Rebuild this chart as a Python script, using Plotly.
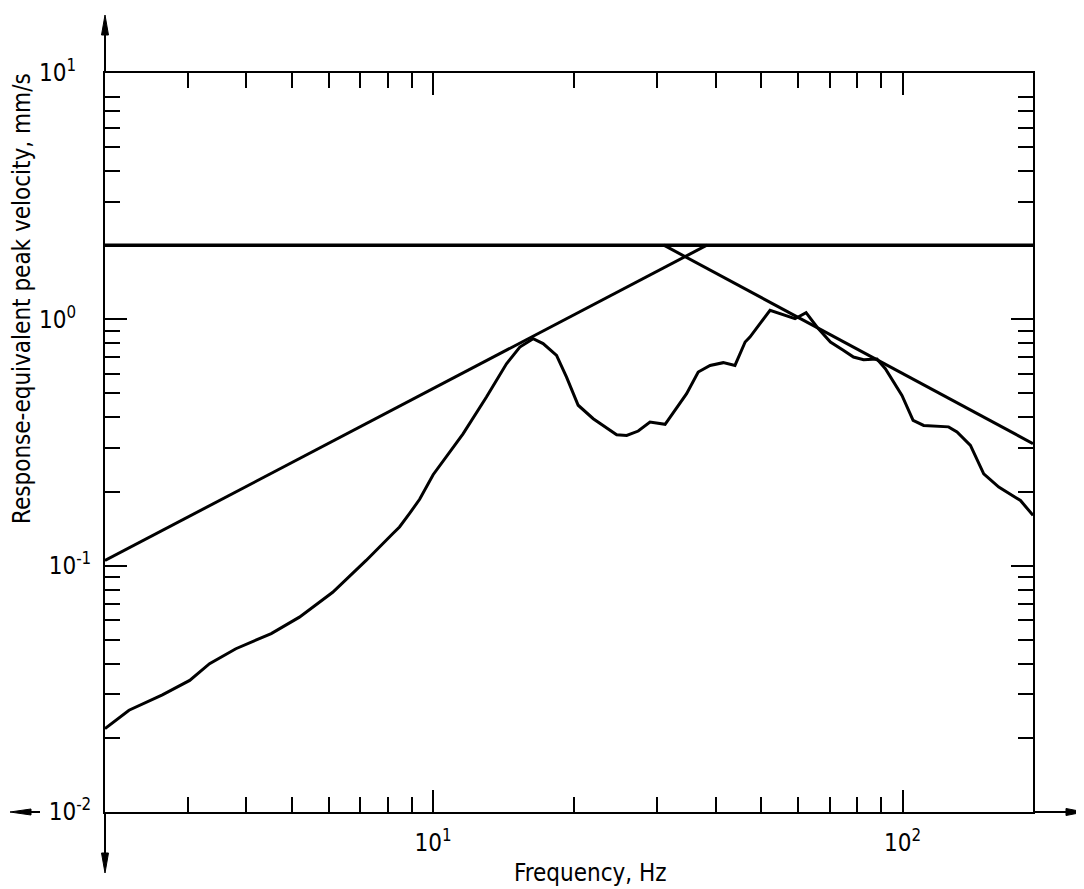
import math
import plotly.graph_objects as go

# ---------------- data ----------------
freq_hz = [2.0, 2.25, 2.65, 3.03, 3.34, 3.80, 4.52, 5.19, 6.11, 7.20, 8.21, 8.48,
           8.91, 9.36, 10.0, 10.85, 11.58, 12.99, 14.33, 15.3, 16.33, 17.15, 18.32,
           19.24, 20.37, 21.93, 23.03, 24.6, 25.84, 27.35, 28.97, 31.2, 34.67, 36.7,
           38.9, 41.5, 43.95, 46.2, 47.3, 52.2, 59.0, 62.3, 65.7, 70.2, 74.9, 78.6,
           82.6, 88.2, 91.9, 99.7, 105.3, 110.9, 125.3, 130.6, 139.5, 148.9, 160.3,
           178.3, 189.6]
velocity = [0.0218, 0.0259, 0.0299, 0.0342, 0.040, 0.046, 0.053, 0.0618, 0.078,
            0.105, 0.135, 0.1436, 0.163, 0.186, 0.234, 0.289, 0.343, 0.484, 0.66,
            0.772, 0.835, 0.797, 0.714, 0.583, 0.448, 0.395, 0.371, 0.340, 0.338,
            0.352, 0.383, 0.375, 0.499, 0.611, 0.65, 0.667, 0.65, 0.809, 0.847, 1.088,
            1.006, 1.065, 0.931, 0.809, 0.748, 0.703, 0.686, 0.69, 0.63, 0.491, 0.389,
            0.371, 0.366, 0.349, 0.308, 0.236, 0.2085, 0.184, 0.160]

limit_freq = [2.0, 189.6]
limit_vel = [2.0, 2.0]

rising_freq = [2.0, 38.3]
rising_vel = [0.105, 2.0]

falling_freq = [31.0, 189.6]
falling_vel = [2.0, 0.313]

x_major = [10, 100]
x_major_text = ["10<sup>1</sup>", "10<sup>2</sup>"]
x_minor = [3, 4, 5, 6, 7, 8, 9, 20, 30, 40, 50, 60, 70, 80, 90]

y_major = [0.01, 0.1, 1, 10]
y_major_text = ["10<sup>-2</sup>", "10<sup>-1</sup>",
                "10<sup>0</sup>\u2002\u2009", "10<sup>1</sup>\u2002\u2009"]
y_minor = [0.02, 0.03, 0.04, 0.05, 0.06, 0.07, 0.08, 0.09,
           0.2, 0.3, 0.4, 0.5, 0.6, 0.7, 0.8, 0.9,
           2, 3, 4, 5, 6, 7, 8]

x_range = [2.0, 189.6]
y_range = [0.01, 10]

# ---------------- layout geometry (page pixels; body has an 8px margin) ----------------
OFF = 8
PAGE_W, PAGE_H = 1084, 889
W, H = PAGE_W - OFF, PAGE_H - OFF
PLOT_L, PLOT_R, PLOT_T, PLOT_B = 105, 1033, 73, 812      # page coordinates of the frame
L, T = PLOT_L - OFF, PLOT_T - OFF
R, B = PAGE_W - PLOT_R, PAGE_H - PLOT_B
PW, PH = PLOT_R - PLOT_L, PLOT_B - PLOT_T


def px(x):
    return (x - PLOT_L) / PW


def py(y):
    return (PLOT_B - y) / PH


BLACK = "black"
TICK_FONT = dict(family="Liberation Sans Narrow, Arial Narrow, DejaVu Sans Condensed, sans-serif",
                 size=24, color=BLACK)
TITLE_FONT = dict(family="DejaVu Sans Condensed, DejaVu Sans, sans-serif", size=24, color=BLACK)

fig = go.Figure()
line_style = dict(color=BLACK, width=3.0)
fig.add_trace(go.Scatter(x=limit_freq, y=limit_vel, mode="lines",
                         line=dict(color=BLACK, width=3.4), showlegend=False, hoverinfo="skip"))
fig.add_trace(go.Scatter(x=rising_freq, y=rising_vel, mode="lines",
                         line=line_style, showlegend=False, hoverinfo="skip"))
fig.add_trace(go.Scatter(x=falling_freq, y=falling_vel, mode="lines",
                         line=line_style, showlegend=False, hoverinfo="skip"))
fig.add_trace(go.Scatter(x=freq_hz, y=velocity, mode="lines",
                         line=line_style, showlegend=False, hoverinfo="skip"))

axis_common = dict(
    type="log", showgrid=False, zeroline=False,
    showline=True, linecolor=BLACK, linewidth=2, mirror="ticks",
    ticks="inside", tickcolor=BLACK, tickwidth=1.8, ticklen=22,
    tickmode="array", tickfont=TICK_FONT, automargin=False,
)

fig.update_xaxes(
    **axis_common,
    range=[math.log10(x_range[0]), math.log10(x_range[1])],
    tickvals=x_major, ticktext=x_major_text, ticklabelstandoff=8,
    minor=dict(tickmode="array", tickvals=x_minor, ticks="inside", ticklen=15,
               tickwidth=1.8, tickcolor=BLACK, showgrid=False),
)
fig.update_yaxes(
    **axis_common,
    range=[math.log10(y_range[0]), math.log10(y_range[1])],
    tickvals=y_major, ticktext=y_major_text, ticklabelstandoff=7,
    minor=dict(tickmode="array", tickvals=y_minor, ticks="inside", ticklen=15,
               tickwidth=1.8, tickcolor=BLACK, showgrid=False),
)

# axis extensions with arrowheads
shapes = []


def seg(x0, y0, x1, y1, w=2):
    shapes.append(dict(type="line", xref="paper", yref="paper",
                       x0=px(x0), y0=py(y0), x1=px(x1), y1=py(y1),
                       line=dict(color=BLACK, width=w)))


def tri(pts):
    path = "M " + " L ".join(f"{px(a):.5f},{py(b):.5f}" for a, b in pts) + " Z"
    shapes.append(dict(type="path", xref="paper", yref="paper", path=path,
                       fillcolor=BLACK, line=dict(color=BLACK, width=1)))


seg(PLOT_L, PLOT_T, PLOT_L, 30)                     # y axis up
tri([(PLOT_L, 15), (PLOT_L - 3.5, 35), (PLOT_L + 3.5, 35)])
seg(PLOT_L, PLOT_B, PLOT_L, 858)                    # y axis down
tri([(PLOT_L, 873), (PLOT_L - 3.5, 853), (PLOT_L + 3.5, 853)])
seg(PLOT_R, PLOT_B, 1070, PLOT_B)                   # x axis right
tri([(1084, PLOT_B), (1066, PLOT_B - 3.5), (1066, PLOT_B + 3.5)])
seg(28, PLOT_B, 40, PLOT_B)                         # x axis left stub
tri([(10, PLOT_B), (31, PLOT_B - 3), (31, PLOT_B + 3)])

annotations = [
    dict(text="Response-equivalent peak velocity, mm/s", xref="paper", yref="paper",
         x=px(22), y=py(299), textangle=-90, showarrow=False,
         xanchor="center", yanchor="middle", font=TITLE_FONT),
    dict(text="Frequency, Hz", xref="paper", yref="paper",
         x=px(590), y=py(873), showarrow=False,
         xanchor="center", yanchor="middle", font=TITLE_FONT),
]

fig.update_layout(
    width=W, height=H,
    margin=dict(l=L, r=R, t=T, b=B, pad=0),
    paper_bgcolor="white", plot_bgcolor="white",
    template="none", showlegend=False,
    shapes=shapes, annotations=annotations,
)

fig.write_html("out.html")
